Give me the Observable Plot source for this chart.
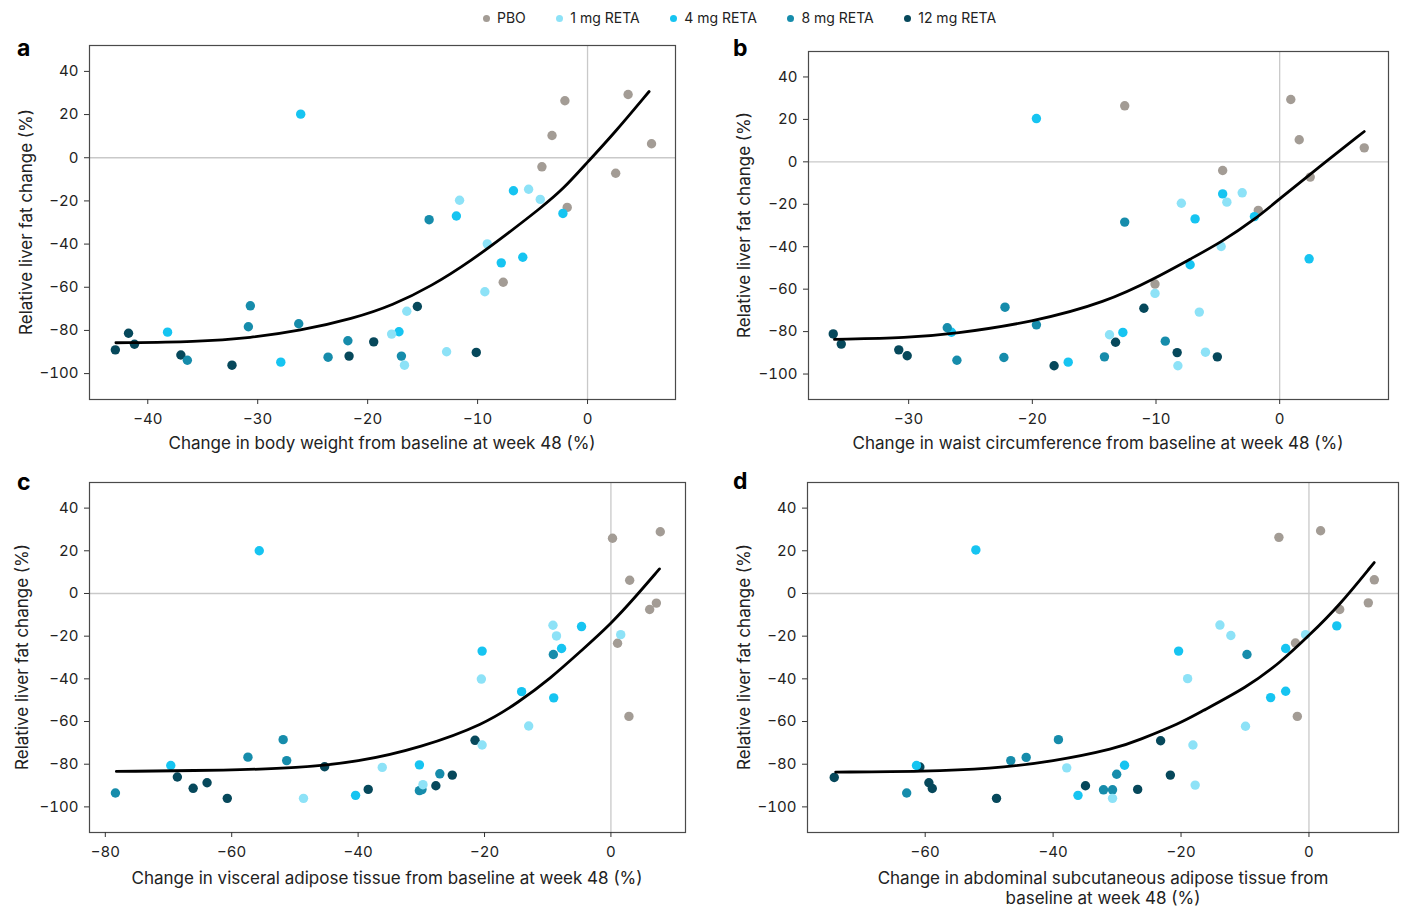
<!DOCTYPE html>
<html><head><meta charset="utf-8">
<script src="https://cdn.jsdelivr.net/npm/d3@7"></script>
<script src="https://cdn.jsdelivr.net/npm/@observablehq/plot@0.6"></script>
<style>
body{margin:0;background:#fff;font-family:Inter,"Noto Sans",sans-serif;color:#222}
#root{position:relative;width:1405px;height:908px;overflow:hidden;background:#fff}
.panel{position:absolute}
.letter{position:absolute;font-weight:700;font-size:23px;line-height:1;color:#000}
.xlab{position:absolute;font-size:17px;text-align:center;white-space:nowrap;line-height:20px;transform:translateX(-50%)}
.ylab{position:absolute;font-size:17px;white-space:nowrap;line-height:20px;transform:translate(-50%,-50%) rotate(-90deg)}
#legend{position:absolute;left:483px;top:9px;display:flex;gap:0 30.5px;font-size:14px;line-height:18px}
#legend span.it{display:flex;align-items:center}
#legend i{display:inline-block;width:7px;height:7px;border-radius:50%;margin-right:7px}
</style></head>
<body><div id="root"></div>
<script>
const groups = ["PBO","1 mg RETA","4 mg RETA","8 mg RETA","12 mg RETA"];
const colors = ["#a39c95","#8de2f7","#16c4f1","#168cab","#06485b"];
const yTicks = [40,20,0,-20,-40,-60,-80,-100];

// Panel a: body weight
const a_PBO = [[-2.06,26.4],[3.69,29.3],[-3.23,10.3],[5.82,6.5],[-4.15,-4.2],[2.56,-7.2],[-1.85,-23.0],[-7.67,-57.7]];
const a_1mg = [[-11.64,-19.7],[-5.36,-14.6],[-4.30,-19.3],[-9.12,-39.9],[-9.34,-62.1],[-16.44,-71.1],[-17.82,-81.7],[-12.82,-89.9],[-16.65,-96.1]];
const a_4mg = [[-26.09,20.2],[-6.74,-15.3],[-11.93,-27.0],[-2.24,-25.8],[-7.85,-48.7],[-5.89,-46.1],[-38.2,-80.8],[-17.15,-80.6],[-27.9,-94.7]];
const a_8mg = [[-14.41,-28.7],[-30.67,-68.6],[-30.85,-78.3],[-26.27,-76.9],[-36.4,-93.8],[-23.6,-92.4],[-21.8,-84.8],[-16.93,-91.9]];
const a_12mg = [[-42.95,-89.0],[-41.75,-81.3],[-41.21,-86.4],[-36.99,-91.4],[-32.34,-96.1],[-21.69,-91.9],[-19.45,-85.3],[-15.48,-68.9],[-10.12,-90.2]];
const a_fit = [[-42.9,-85.7],[-35.5,-85.3],[-30.6,-83.4],[-26.2,-80.2],[-21.3,-74.5],[-17.7,-68.3],[-14.2,-59.5],[-10.6,-47.8],[-7.1,-34.5],[-4.2,-23.0],[-2.2,-14.5],[0,-2],[2.35,10.9],[5.6,30.7]];
const a_xTicks = [-40,-30,-20,-10,0];

// Panel b: waist circumference
const b_PBO = [[-12.53,26.4],[0.90,29.4],[1.58,10.4],[6.84,6.6],[-4.61,-4.1],[2.47,-7.2],[-1.73,-22.9],[-10.08,-57.6]];
const b_1mg = [[-7.95,-19.5],[-3.03,-14.6],[-4.27,-19.0],[-4.73,-39.9],[-10.08,-62.0],[-6.50,-70.8],[-13.76,-81.5],[-6.0,-89.7],[-8.23,-96.1]];
const b_4mg = [[-26.54,-80.3],[-19.67,20.4],[-4.61,-15.1],[-6.84,-26.9],[-2.04,-25.8],[-7.24,-48.5],[2.38,-45.7],[-12.68,-80.4],[-17.1,-94.4]];
const b_8mg = [[-12.53,-28.4],[-22.21,-68.5],[-26.88,-78.2],[-19.67,-76.8],[-26.1,-93.5],[-22.3,-92.2],[-9.25,-84.5],[-14.17,-91.9]];
const b_12mg = [[-36.1,-81.1],[-35.45,-85.9],[-30.8,-88.6],[-30.12,-91.4],[-18.24,-96.1],[-13.27,-85.0],[-10.98,-69.0],[-8.29,-89.9],[-5.04,-91.9]];
const b_fit = [[-36.0,-83.7],[-30,-82.9],[-26.4,-81.1],[-20,-75.6],[-14.0,-66.1],[-10,-54.7],[-7.2,-45.7],[-4.73,-37.9],[-1.95,-26.9],[0,-17.4],[3.0,-3.3],[6.84,14.3]];
const b_xTicks = [-30,-20,-10,0];

// Panel c: visceral adipose tissue
const c_PBO = [[0.25,25.9],[7.81,28.9],[2.97,6.2],[6.13,-7.5],[7.19,-4.5],[1.05,-23.3],[2.85,-57.6]];
const c_1mg = [[-9.17,-14.9],[-8.61,-19.9],[1.55,-19.3],[-20.5,-40.1],[-13.01,-62.1],[-20.38,-71.0],[-36.18,-81.5],[-29.74,-89.6],[-48.64,-96.0]];
const c_4mg = [[-55.64,20.0],[-4.65,-15.5],[-20.38,-27.0],[-7.81,-25.8],[-9.05,-48.9],[-14.13,-46.0],[-69.64,-80.6],[-30.3,-80.3],[-40.4,-94.6]];
const c_8mg = [[-9.11,-28.6],[-51.86,-68.5],[-51.3,-78.3],[-57.43,-76.7],[-78.4,-93.5],[-30.3,-92.4],[-29.9,-91.9],[-27.07,-84.5]];
const c_12mg = [[-68.6,-86.0],[-66.1,-91.3],[-63.9,-88.7],[-60.7,-96.0],[-45.3,-81.2],[-38.4,-91.8],[-27.7,-90.1],[-25.1,-85.1],[-21.5,-68.8]];
const c_fit = [[-78.25,-83.4],[-60,-82.8],[-49.8,-81.8],[-40,-79.0],[-30.05,-72.2],[-20,-61.3],[-14.56,-50.8],[-9.6,-39.9],[-4.65,-26.7],[0,-14.3],[4.03,-1.1],[7.68,11.5]];
const c_xTicks = [-80,-60,-40,-20,0];

// Panel d: abdominal subcutaneous adipose tissue
const d_PBO = [[-4.70,26.3],[1.82,29.4],[10.22,6.4],[9.28,-4.4],[4.81,-7.5],[-2.11,-23.2],[-1.82,-57.6]];
const d_1mg = [[-13.92,-14.8],[-12.21,-19.7],[-0.53,-19.3],[-18.97,-39.9],[-9.92,-62.2],[-18.14,-71.0],[-37.87,-81.7],[-17.79,-89.8],[-30.71,-96.0]];
const d_4mg = [[-52.08,20.4],[4.35,-15.2],[-20.38,-27.0],[-3.64,-25.8],[-5.99,-48.8],[-3.64,-45.8],[-61.36,-80.6],[-28.83,-80.5],[-36.11,-94.6]];
const d_8mg = [[-9.69,-28.6],[-39.17,-68.5],[-46.62,-78.3],[-44.21,-76.8],[-62.89,-93.5],[-30.71,-92.0],[-30.06,-84.7],[-32.12,-92.0]];
const d_12mg = [[-74.22,-86.2],[-60.83,-81.3],[-59.42,-88.7],[-58.89,-91.4],[-48.85,-96.0],[-34.94,-90.1],[-26.78,-91.8],[-21.67,-85.1],[-23.19,-69.0]];
const d_fit = [[-74.0,-83.7],[-60,-83.4],[-50,-82.2],[-40,-78.8],[-30,-72.5],[-26.8,-68.9],[-20,-60.6],[-17.4,-56.2],[-9.6,-43.8],[-4.4,-32.2],[0.1,-19.4],[4.5,-6.5],[10.2,14.5]];
const d_xTicks = [-60,-40,-20,0];

const root = document.getElementById("root");
const drawOrder = [0,4,2,3,1];

function makePanel(cfg){
  const sets = [cfg.pbo, cfg.m1, cfg.m4, cfg.m8, cfg.m12];
  const pts = drawOrder.flatMap(i => sets[i].map(([x,y]) => ({x, y, g: groups[i]})));
  const svg = Plot.plot({
    width: cfg.w, height: cfg.h,
    marginLeft: cfg.ml, marginRight: cfg.mr, marginTop: cfg.mt, marginBottom: cfg.mb,
    style: {fontFamily: "Inter, 'Noto Sans', sans-serif", fontSize: "15px", color: "#222", background: "transparent", overflow: "visible"},
    x: {domain: cfg.xd, label: null},
    y: {domain: [-112, 52], label: null},
    color: {domain: groups, range: colors},
    marks: [
      Plot.ruleX([0], {stroke: "#c9c9c9", strokeWidth: 1.3}),
      Plot.ruleY([0], {stroke: "#c9c9c9", strokeWidth: 1.3}),
      Plot.dot(pts, {x: "x", y: "y", fill: "g", r: 4.7}),
      Plot.line(cfg.fit, {x: d => d[0], y: d => d[1], stroke: "#000", strokeWidth: 2.8, curve: "basis"}),
      Plot.frame({stroke: "#4a4a4a", strokeWidth: 1.2}),
      Plot.axisX({ticks: cfg.xt, tickSize: 5, tickPadding: 9, stroke: "#333", fill: "#222", label: null}),
      Plot.axisY({ticks: yTicks, tickSize: 5, tickPadding: 6, stroke: "#333", fill: "#222", label: null})
    ]
  });
  svg.classList.add("panel");
  svg.style.left = cfg.left + "px";
  svg.style.top = cfg.top + "px";
  root.appendChild(svg);

  const L = document.createElement("div");
  L.className = "letter"; L.textContent = cfg.letter;
  L.style.left = cfg.letterPos[0] + "px"; L.style.top = cfg.letterPos[1] + "px";
  root.appendChild(L);

  const X = document.createElement("div");
  X.className = "xlab"; X.innerHTML = cfg.xlabel;
  X.style.left = cfg.xlabPos[0] + "px"; X.style.top = cfg.xlabPos[1] + "px";
  root.appendChild(X);

  const Y = document.createElement("div");
  Y.className = "ylab"; Y.textContent = "Relative liver fat change (%)";
  Y.style.left = cfg.ylabPos[0] + "px"; Y.style.top = cfg.ylabPos[1] + "px";
  root.appendChild(Y);
}

makePanel({letter:"a", letterPos:[17,37], left:0, top:30, w:690, h:400, ml:89, mr:15, mt:15, mb:31,
  xd:[-45.3,8.0], xt:a_xTicks, pbo:a_PBO, m1:a_1mg, m4:a_4mg, m8:a_8mg, m12:a_12mg, fit:a_fit,
  xlabel:"Change in body weight from baseline at week 48 (%)", xlabPos:[382,433], ylabPos:[26,222]});
makePanel({letter:"b", letterPos:[733,37], left:720, top:30, w:685, h:400, ml:88, mr:17, mt:21, mb:31,
  xd:[-38.1,8.8], xt:b_xTicks, pbo:b_PBO, m1:b_1mg, m4:b_4mg, m8:b_8mg, m12:b_12mg, fit:b_fit,
  xlabel:"Change in waist circumference from baseline at week 48 (%)", xlabPos:[1098,433], ylabPos:[744,225]});
makePanel({letter:"c", letterPos:[17,471], left:0, top:465, w:700, h:400, ml:89, mr:15, mt:17, mb:33,
  xd:[-82.5,11.8], xt:c_xTicks, pbo:c_PBO, m1:c_1mg, m4:c_4mg, m8:c_8mg, m12:c_12mg, fit:c_fit,
  xlabel:"Change in visceral adipose tissue from baseline at week 48 (%)", xlabPos:[387,868], ylabPos:[22,657]});
makePanel({letter:"d", letterPos:[733,470], left:720, top:465, w:685, h:400, ml:87, mr:7, mt:17, mb:33,
  xd:[-78.4,14.0], xt:d_xTicks, pbo:d_PBO, m1:d_1mg, m4:d_4mg, m8:d_8mg, m12:d_12mg, fit:d_fit,
  xlabel:"Change in abdominal subcutaneous adipose tissue from<br>baseline at week 48 (%)", xlabPos:[1103,868], ylabPos:[744,657]});

// legend
const leg = document.createElement("div");
leg.id = "legend";
groups.forEach((g,i) => {
  const s = document.createElement("span"); s.className = "it";
  const dot = document.createElement("i"); dot.style.background = colors[i];
  s.appendChild(dot); s.appendChild(document.createTextNode(g));
  leg.appendChild(s);
});
root.appendChild(leg);
</script>
</body></html>
